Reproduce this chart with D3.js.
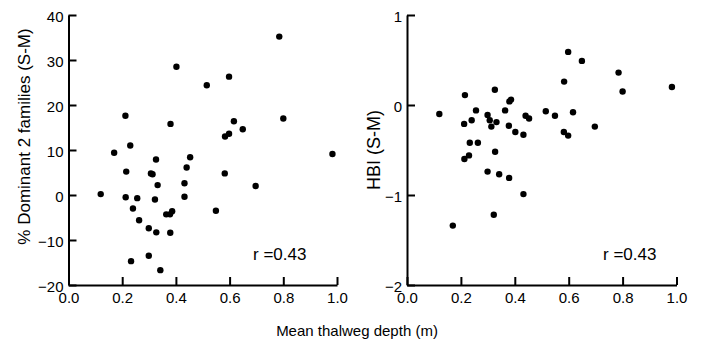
<!DOCTYPE html>
<html>
<head>
<meta charset="utf-8">
<script src="https://cdn.jsdelivr.net/npm/d3@7"></script>
<style>
  html, body { margin: 0; padding: 0; background: #fff; }
  svg { display: block; font-family: "Liberation Sans", Arial, sans-serif; }
</style>
</head>
<body>
<svg id="chart" width="701" height="344"></svg>
<script>
// Mean thalweg depth (m), shared by both panels
const depth = [0.120,0.170,0.212,0.215,0.213,0.230,0.233,0.240,0.256,0.263,0.299,0.299,0.307,0.313,
  0.322,0.326,0.327,0.332,0.342,0.364,0.378,0.379,0.380,0.386,0.402,0.432,0.432,0.440,0.453,
  0.515,0.549,0.583,0.582,0.598,0.598,0.616,0.649,0.697,0.785,0.800,0.983];
// % Dominant 2 families (S-M)
const dominant = [0.2,9.4,17.6,5.2,-0.5,11.0,-14.7,-3.0,-0.7,-5.6,-7.4,-13.5,4.8,4.6,
  -1.0,7.9,-8.3,2.2,-16.7,-4.3,-4.3,-8.4,15.8,-3.6,28.5,2.6,-0.4,6.1,8.4,
  24.4,-3.5,13.0,4.8,13.6,26.3,16.4,14.6,2.0,35.2,17.0,9.1];
// HBI (S-M)
const hbi = [-0.10,-1.34,-0.21,0.11,-0.60,-0.56,-0.42,-0.17,-0.06,-0.42,-0.11,-0.74,-0.17,-0.24,
  -1.22,0.17,-0.52,-0.19,-0.77,-0.06,-0.23,-0.81,0.04,0.06,-0.30,-0.33,-0.99,-0.12,-0.15,
  -0.07,-0.12,0.26,-0.30,-0.34,0.59,-0.08,0.49,-0.24,0.36,0.15,0.20];

const xTicks = [0, 0.2, 0.4, 0.6, 0.8, 1.0];
const leftYTicks = [-20, -10, 0, 10, 20, 30, 40];
const rightYTicks = [-2, -1, 0, 1];
const xTitle = "Mean thalweg depth (m)";
const rText = "r =0.43";

const svg = d3.select("#chart");

const panels = [
  { xr: [68.5, 337], yDomain: [-20, 40], yTicks: leftYTicks, values: dominant,
    title: "% Dominant 2 families (S-M)", titleX: 30, titleY: 136.5, titleSize: 17, rX: 253 },
  { xr: [407, 676.5], yDomain: [-2, 1], yTicks: rightYTicks, values: hbi,
    title: "HBI (S-M)", titleX: 380, titleY: 150, titleSize: 18, rX: 603 }
];

panels.forEach(p => {
  const x = d3.scaleLinear().domain([0, 1]).range(p.xr);
  const y = d3.scaleLinear().domain(p.yDomain).range([285, 15]);

  const xAxis = svg.append("g")
    .attr("transform", "translate(0,285)")
    .call(d3.axisBottom(x).tickValues(xTicks).tickFormat(d3.format(".1f"))
      .tickSizeInner(-8).tickSizeOuter(0).tickPadding(7));
  const yAxis = svg.append("g")
    .attr("transform", `translate(${p.xr[0]},0)`)
    .call(d3.axisLeft(y).tickValues(p.yTicks).tickFormat(d3.format("d"))
      .tickSizeInner(-8).tickSizeOuter(0).tickPadding(5));

  [xAxis, yAxis].forEach(a => {
    a.select(".domain").attr("stroke", "#000").attr("stroke-width", 2);
    a.selectAll(".tick line").attr("stroke", "#000").attr("stroke-width", 2);
    a.selectAll(".tick text").attr("fill", "#000").style("font-size", "15px")
      .style("font-family", '"Liberation Sans", Arial, sans-serif');
  });
  yAxis.selectAll(".tick text").attr("dy", "0.45em");

  svg.append("g").selectAll("circle")
    .data(depth.map((d, i) => [d, p.values[i]]))
    .join("circle")
    .attr("cx", d => x(d[0]))
    .attr("cy", d => y(d[1]))
    .attr("r", 3.2)
    .attr("fill", "#000");

  svg.append("text")
    .attr("transform", `translate(${p.titleX},${p.titleY}) rotate(-90)`)
    .attr("text-anchor", "middle")
    .style("font-size", p.titleSize + "px")
    .attr("fill", "#000")
    .text(p.title);

  svg.append("text")
    .attr("x", p.rX).attr("y", 259.5)
    .style("font-size", "17px")
    .attr("fill", "#000")
    .text(rText);
});

svg.append("text")
  .attr("x", 357).attr("y", 336)
  .attr("text-anchor", "middle")
  .style("font-size", "15px")
  .attr("fill", "#000")
  .text(xTitle);
</script>
</body>
</html>
